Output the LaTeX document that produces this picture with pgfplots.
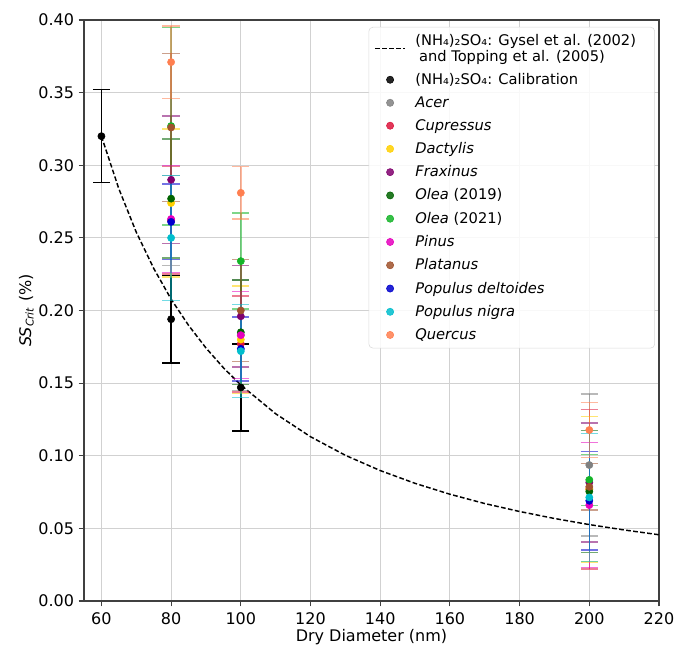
\documentclass[border=0pt]{standalone}
\usepackage{fontspec}
\setmainfont{DejaVu Sans}
\usepackage{pgfplots}
\pgfplotsset{compat=1.18}
\usetikzlibrary{calc}
\definecolor{cAcer}{RGB}{128,128,128}
\definecolor{cCup}{RGB}{220,20,60}
\definecolor{cDac}{RGB}{255,208,0}
\definecolor{cFrax}{RGB}{128,0,110}
\definecolor{cOl19}{RGB}{0,100,0}
\definecolor{cOl21}{RGB}{20,180,40}
\definecolor{cPin}{RGB}{230,0,190}
\definecolor{cPlat}{RGB}{160,82,45}
\definecolor{cPd}{RGB}{0,0,205}
\definecolor{cPn}{RGB}{0,190,205}
\definecolor{cQ}{RGB}{255,127,80}
\pgfplotsset{
  ser/.style={only marks, mark=*, mark size=2.7pt, color=#1, mark options={draw=#1, fill=#1},
    error bars/.cd, y dir=both, y explicit,
    error bar style={color=#1, opacity=0.55, line width=1.1pt},
    error mark options={rotate=90, mark size=6.5pt, line width=1.1pt, color=#1, opacity=0.55}},
}
\begin{document}
\begin{tikzpicture}
\begin{axis}[
  name=ax,
  scale only axis,
  width=431.25pt, height=435.75pt,
  xmin=55, xmax=220, ymin=0, ymax=0.40,
  xtick={60,80,...,220},
  ytick={0,0.05,...,0.401},
  yticklabel style={/pgf/number format/.cd, fixed, fixed zerofill, precision=2},
  xticklabel style={yshift=-1pt},
  /pgf/number format/assume math mode=true,
  tick label style={font=\fontsize{12}{14}\selectfont, text=black},
  label style={font=\fontsize{12}{14}\selectfont},
  xlabel={Dry Diameter (nm)},
  xlabel style={yshift=3pt},
  ylabel={\textit{SS}\textsubscript{\textit{Crit}} (\%)},
  ylabel style={yshift=-3.5pt},
  grid=major,
  grid style={black!18, line width=0.8pt},
  axis line style={black!75, line width=0.8pt},
  tick align=outside,
  xtick pos=bottom, ytick pos=left,
  major tick length=4pt,
  tick style={black!75, line width=0.8pt},
  legend cell align=left,
  legend image code/.code={\draw[mark repeat=2,mark phase=2] plot coordinates {(0cm,0cm) (0.4cm,0cm) (0.8cm,0cm)};},
  legend style={at={(0.993,0.988)}, anchor=north east,
    font=\fontsize{11}{12}\selectfont,
    cells={align=left},
    /tikz/every odd column/.append style={column sep=5pt},
    draw=black!15, rounded corners=3pt, fill=white, fill opacity=0.85, text opacity=1,
    row sep=3.6pt, inner xsep=4pt, inner ysep=3pt},
]
\addplot[black, dash pattern=on 3.5pt off 1.8pt, line width=1.1pt, no marks] coordinates {
(60,0.3200) (65,0.2838) (70,0.2539) (75,0.2290) (80,0.2078) (85,0.1898)
(90,0.1742) (95,0.1606) (100,0.1487) (110,0.1289) (120,0.1131) (130,0.1003)
(140,0.0898) (150,0.0810) (160,0.0735) (170,0.0671) (180,0.0616) (190,0.0568)
(200,0.0526) (210,0.0489) (220,0.0456)};
\addlegendentry{(NH₄)₂SO₄: Gysel et al. (2002)\hspace*{8pt}\\\hspace{0.25em}and Topping et al. (2005)}

\addplot[only marks, mark=*, mark size=2.7pt, black,
  error bars/.cd, y dir=both, y explicit,
  error bar style={black, line width=1.1pt},
  error mark options={rotate=90, mark size=6.5pt, line width=1.1pt, black}]
  table[y error=e] {
x y e
60 0.320 0.032
80 0.194 0.030
100 0.147 0.030
};
\addlegendentry{(NH₄)₂SO₄: Calibration}

\addplot[ser=cAcer] table[y error=e] {
x y e
80 0.262 0.031
100 0.183 0.038
200 0.0936 0.049
};
\addlegendentry{\textit{Acer}}

\addplot[ser=cCup] table[y error=e] {
x y e
80 0.262 0.037
100 0.177 0.033
200 0.077 0.055
};
\addlegendentry{\textit{Cupressus}}

\addplot[ser=cDac] table[y error=e] {
x y e
80 0.274 0.051
100 0.180 0.037
200 0.077 0.050
};
\addlegendentry{\textit{Dactylis}}

\addplot[ser=cFrax] table[y error=e] {
x y e
80 0.290 0.044
100 0.196 0.035
200 0.0816 0.041
};
\addlegendentry{\textit{Fraxinus}}

\addplot[ser=cOl19] table[y error=e] {
x y e
80 0.277 0.041
100 0.185 0.036
200 0.0754 0.042
};
\addlegendentry{\textit{Olea} (2019)}

\addplot[ser=cOl21] table[y error=e] {
x y e
80 0.327 0.068
100 0.234 0.033
200 0.0834 0.0175
};
\addlegendentry{\textit{Olea} (2021)}

\addplot[ser=cPin] table[y error=e] {
x y e
80 0.263 0.037
100 0.183 0.030
200 0.066 0.043
};
\addlegendentry{\textit{Pinus}}

\addplot[ser=cPlat] table[y error=e] {
x y e
80 0.326 0.051
100 0.200 0.035
200 0.0786 0.016
};
\addlegendentry{\textit{Platanus}}

\addplot[ser=cPd] table[y error=e] {
x y e
80 0.261 0.026
100 0.1736 0.022
200 0.069 0.034
};
\addlegendentry{\textit{Populus deltoides}}

\addplot[ser=cPn] table[y error=e] {
x y e
80 0.250 0.043
100 0.172 0.032
200 0.0713 0.044
};
\addlegendentry{\textit{Populus nigra}}

\addplot[ser=cQ] table[y error=e] {
x y e
80 0.371 0.025
100 0.281 0.018
200 0.1177 0.019
};
\addlegendentry{\textit{Quercus}}
\end{axis}
\pgfresetboundingbox
\path ($(ax.south west)+(-63pt,-33pt)$) rectangle ($(ax.north east)+(12.75pt,15pt)$);
\end{tikzpicture}
\end{document}
